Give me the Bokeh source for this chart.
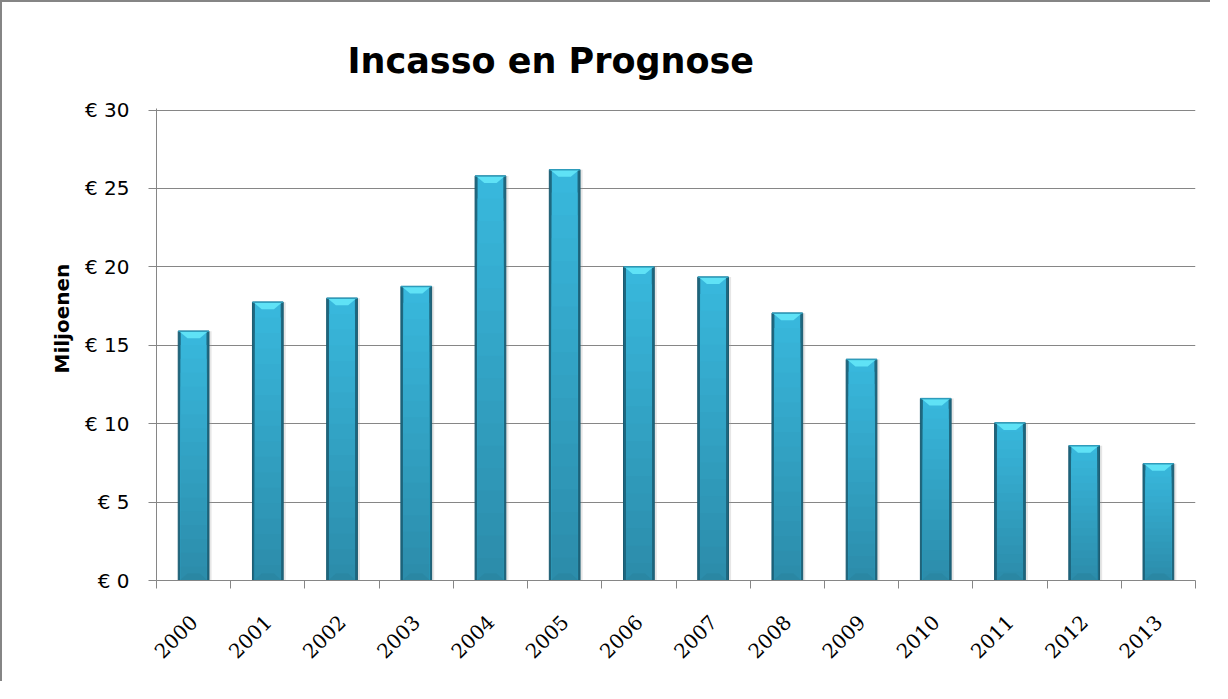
import math
from bokeh.plotting import figure
from bokeh.models import FixedTicker, Range1d, Title, NumeralTickFormatter
from bokeh.embed import file_html
from bokeh.resources import INLINE

# ---- data ----
years = [2000, 2001, 2002, 2003, 2004, 2005, 2006, 2007, 2008, 2009, 2010, 2011, 2012, 2013]
values = [15.9, 17.75, 18.0, 18.75, 25.8, 26.2, 20.0, 19.35, 17.05, 14.1, 11.6, 10.05, 8.6, 7.45]
y_ticks = [0, 5, 10, 15, 20, 25, 30]
y_tick_labels = ["€ 0", "€ 5", "€ 10", "€ 15", "€ 20", "€ 25", "€ 30"]
title_text = "Incasso en Prognose"
y_title = "Miljoenen"

GRID = "#868686"

p = figure(width=1210, height=681, output_backend="svg", toolbar_location=None,
           x_range=Range1d(years[0] - 0.5, years[-1] + 0.5),
           y_range=Range1d(y_ticks[0], y_ticks[-1] + 0.1),
           min_border_left=154, min_border_right=17, min_border_top=106, min_border_bottom=103,
           title=title_text)
p.styles = {"border-left": "2px solid #858585", "border-top": "2px solid #858585"}
p.outline_line_color = None
p.background_fill_color = "white"
p.border_fill_color = "white"

# title
p.title.align = "left"
p.title.offset = 191
p.title.standoff = 56
p.title.text_font = "DejaVu Sans"
p.title.text_font_size = "35px"
p.title.text_font_style = "bold"
p.title.text_color = "black"

# grid
p.xgrid.visible = False
p.ygrid.grid_line_color = GRID
p.ygrid.grid_line_width = 1
p.ygrid.ticker = FixedTicker(ticks=y_ticks)

# y axis
p.yaxis.ticker = FixedTicker(ticks=y_ticks)
p.yaxis.major_label_overrides = {t: l for t, l in zip(y_ticks, y_tick_labels)}
p.yaxis.axis_line_color = GRID
p.yaxis.major_tick_line_color = GRID
p.yaxis.major_tick_in = 0
p.yaxis.major_tick_out = 8
p.yaxis.minor_tick_line_color = None
p.yaxis.major_label_standoff = 19
p.yaxis.major_label_text_font = "DejaVu Sans"
p.yaxis.major_label_text_font_size = "20px"
p.yaxis.major_label_text_color = "black"

# x axis
bounds = [y - 0.5 for y in years] + [years[-1] + 0.5]
p.xaxis.ticker = FixedTicker(ticks=years, minor_ticks=bounds)
p.xaxis.formatter = NumeralTickFormatter(format="0")
p.xaxis.axis_line_color = GRID
p.xaxis.major_tick_line_color = None
p.xaxis.major_tick_in = 0
p.xaxis.major_tick_out = 0
p.xaxis.minor_tick_line_color = GRID
p.xaxis.minor_tick_in = 0
p.xaxis.minor_tick_out = 8
p.xaxis.major_label_orientation = math.pi / 4
p.xaxis.major_label_standoff = 30
p.xaxis.major_label_text_font = "DejaVu Serif"
p.xaxis.major_label_text_font_size = "20px"
p.xaxis.major_label_text_color = "black"

# y title
yt = Title(text=y_title, align="left", offset=207, standoff=15,
           text_font="DejaVu Sans", text_font_size="20px", text_font_style="bold",
           text_color="black")
p.add_layout(yt, "left")

# ---- bars with a glossy bevel look ----
W = 0.414
WI = 0.347
px = 30.1 / 472.0  # one screen pixel in y data units (approx)
cap = 7 * px

# soft shadow
p.vbar(x=[y + 0.035 for y in years], top=values, width=W, bottom=0,
       fill_color="#9a9a9a", fill_alpha=0.25, line_color=None)
# outer dark edge
p.vbar(x=years, top=values, width=W, bottom=0,
       fill_color="#1E6880", line_color="#1A5A70", line_width=1)
# vertical gradient body (drawn light-to-dark from the full bar downwards, no seams)
N = 18
c0 = (0x2C, 0x8C, 0xAA)
c1 = (0x39, 0xB9, 0xDE)
for k in reversed(range(N)):
    t = (k + 0.5) / N
    col = "#%02x%02x%02x" % tuple(int(a + (b - a) * t) for a, b in zip(c0, c1))
    p.vbar(x=years, bottom=0, top=[v * (k + 1) / N for v in values],
           width=WI, fill_color=col, line_color=None)
# top bevel and bottom bevel
xs_top, ys_top, xs_bot, ys_bot = [], [], [], []
for x, v in zip(years, values):
    xs_top.append([x - W / 2 + 0.012, x + W / 2 - 0.012, x + W * 0.2, x - W * 0.2])
    ys_top.append([v, v, v - cap, v - cap])
    xs_bot.append([x - W / 2 + 0.02, x + W / 2 - 0.02, x + W * 0.2, x - W * 0.2])
    ys_bot.append([0, 0, cap, cap])
p.patches(xs_top, ys_top, fill_color="#5FE2F6", line_color=None)
p.patches(xs_bot, ys_bot, fill_color="#2A849F", fill_alpha=0.7, line_color=None)
p.segment(x0=[x - W / 2 for x in years], x1=[x + W / 2 for x in years], y0=values, y1=values,
          line_color="#2E9CBB", line_width=1.5)

open("out.html", "w").write(file_html(p, INLINE))
